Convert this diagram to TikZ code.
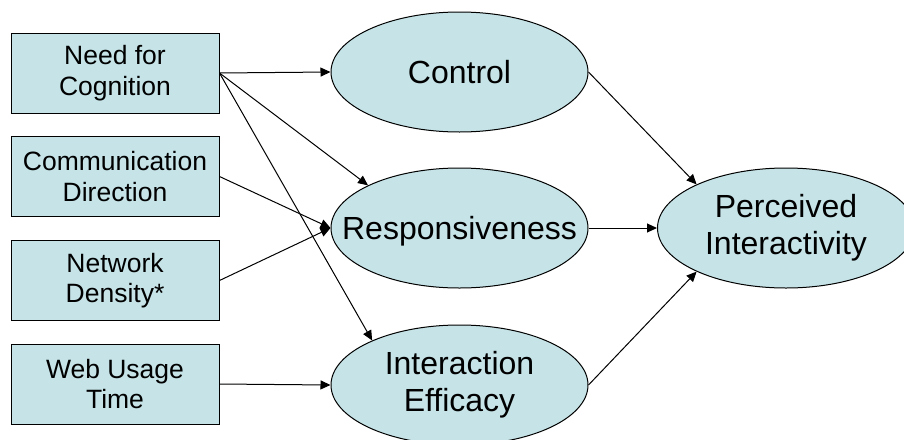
\documentclass[tikz,border=0pt]{standalone}
\usepackage{fontspec}
\setmainfont{Liberation Sans}
\usetikzlibrary{arrows.meta, shapes.geometric}
\definecolor{nodefill}{HTML}{C6E4E8}

\begin{document}
\begin{tikzpicture}[x=1pt, y=-1pt,
    factor/.style={rectangle, draw=black, fill=nodefill, line width=1pt, minimum width=208pt, minimum height=80pt, inner sep=0pt, align=center, font=\fontsize{26.5}{30.7}\selectfont},
    latent/.style={ellipse, draw=black, fill=nodefill, line width=1pt, minimum width=257pt, minimum height=120pt, inner xsep=-30pt, inner ysep=0pt, align=center, font=\fontsize{32}{37}\selectfont},
    arrow/.style={-{Triangle[length=10pt, width=9pt]}, line width=1pt, color=black}
]
\useasboundingbox (0,0) rectangle (904,439);

\node[factor] (nfc) at (115,73) {Need for\\Cognition};
\node[factor] (comm) at (115,176.5) {Communication\\Direction};
\node[factor] (density) at (115,280.5) {Network\\Density*};
\node[factor] (web) at (115,384) {Web Usage\\Time};

\node[latent] (control) at (459.5,72) {Control};
\node[latent, text depth=0pt] (resp) at (459.5,228) {Responsiveness};
\node[latent] (efficacy) at (459.5,385) {Interaction\\Efficacy};
\node[latent] (perceived) at (786,228) {Perceived\\Interactivity};

\draw[arrow] (nfc.east) -- (control.west);
\draw[arrow] (nfc.east) -- (resp.155.6);
\draw[arrow] (nfc.east) -- (efficacy.153.8);
\draw[arrow] (comm.east) -- (resp.west);
\draw[arrow] (density.east) -- (resp.west);
\draw[arrow] (web.east) -- (efficacy.west);

\draw[arrow] (control.east) -- (perceived.154.7);
\draw[arrow] (resp.east) -- (perceived.west);
\draw[arrow] (efficacy.east) -- (perceived.206.8);

\end{tikzpicture}
\end{document}
